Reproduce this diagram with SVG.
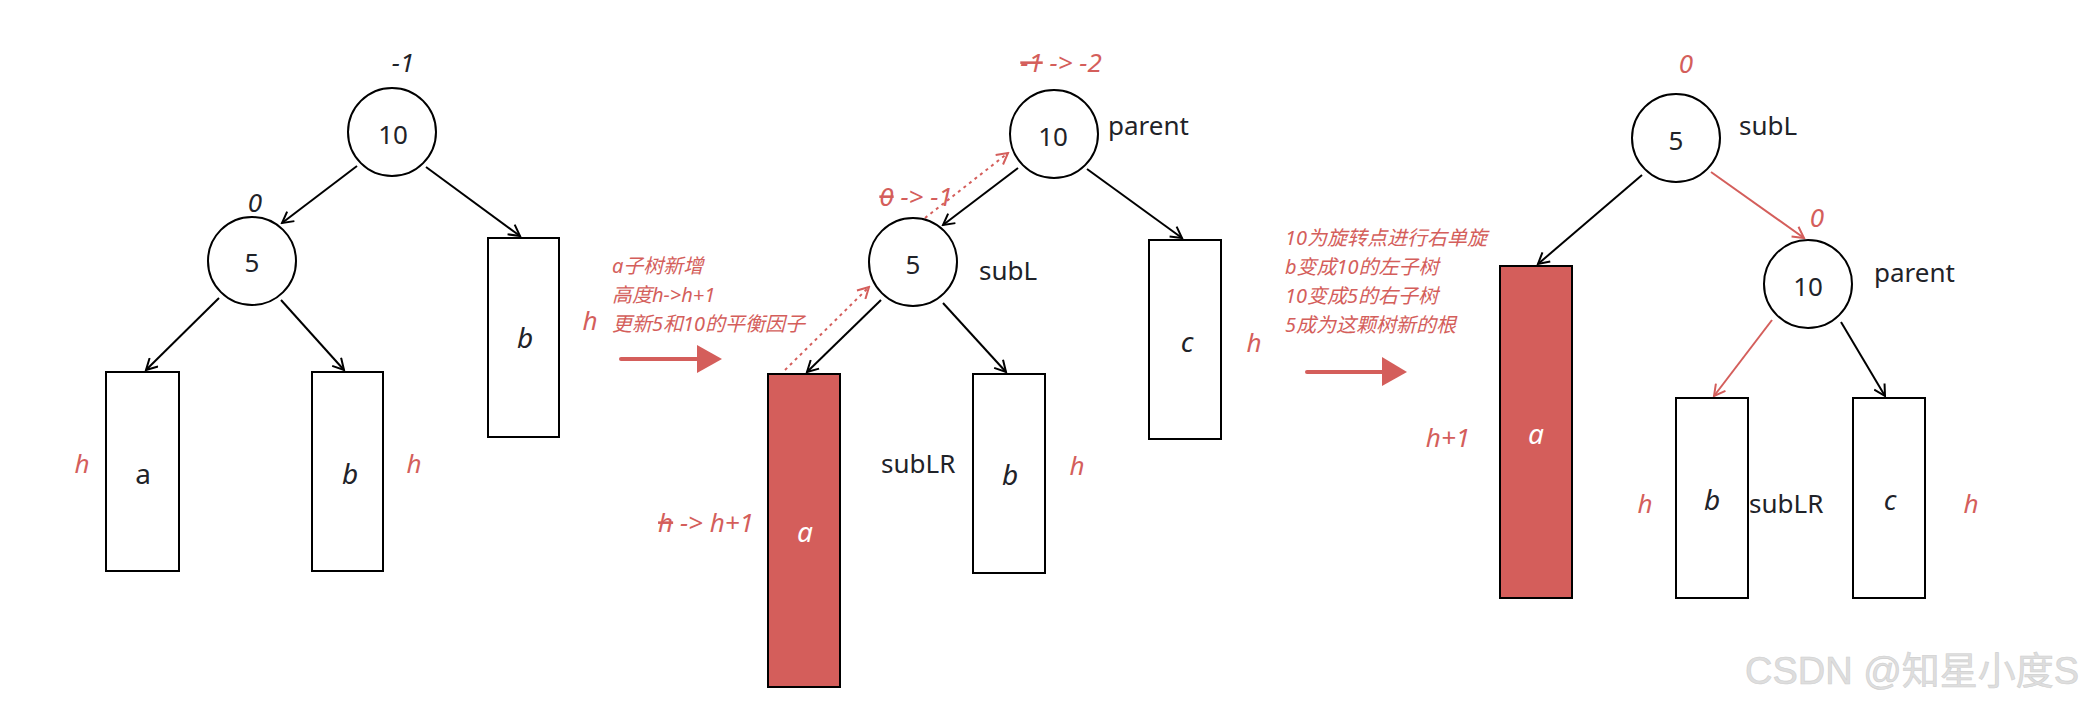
<svg xmlns="http://www.w3.org/2000/svg" width="2084" height="707" viewBox="0 0 2084 707">
<style>
text{font-family:"Noto Sans","Noto Sans CJK SC",sans-serif;}
.node{fill:#fff;stroke:#000;stroke-width:2;}
.box{fill:#fff;stroke:#000;stroke-width:2;}
.rbox{fill:#d45e5b;stroke:#000;stroke-width:2;}
.lbl{font-size:26px;fill:#1f2329;}
.num{font-size:26px;fill:#1f2329;text-anchor:middle;}
.it{font-style:italic;}
.sub{font-size:28px;fill:#1f2329;text-anchor:middle;}
.red{fill:#d45e5b;}
.h{font-size:26px;font-style:italic;fill:#d45e5b;text-anchor:middle;}
.note{font-size:20px;font-style:italic;fill:#d45e5b;}
.e{stroke:#000;stroke-width:2;fill:none;marker-end:url(#ab);}
.er{stroke:#d45e5b;stroke-width:2;fill:none;marker-end:url(#ar);}
.ed{stroke:#d45e5b;stroke-width:2;fill:none;stroke-dasharray:3 4;marker-end:url(#ar);}
.big{stroke:#d45e5b;stroke-width:4;stroke-linecap:round;fill:none;}
</style>
<defs>
<marker id="ab" viewBox="0 0 14 14" refX="12" refY="7" markerWidth="14" markerHeight="14" markerUnits="userSpaceOnUse" orient="auto">
<path d="M1,1 L12,7 L1,13" fill="none" stroke="#000" stroke-width="2"/>
</marker>
<marker id="ar" viewBox="0 0 14 14" refX="12" refY="7" markerWidth="14" markerHeight="14" markerUnits="userSpaceOnUse" orient="auto">
<path d="M1,1 L12,7 L1,13" fill="none" stroke="#d45e5b" stroke-width="2"/>
</marker>
</defs>
<rect width="2084" height="707" fill="#fff"/>

<g id="connectors">
<line class="e" x1="357" y1="166" x2="282" y2="223"/>
<line class="e" x1="426" y1="167" x2="520" y2="236"/>
<line class="e" x1="219" y1="298" x2="146" y2="370"/>
<line class="e" x1="281" y1="300" x2="344" y2="370"/>
<line class="e" x1="1018" y1="168" x2="943" y2="225"/>
<line class="e" x1="1087" y1="169" x2="1182" y2="238"/>
<line class="e" x1="881" y1="300" x2="807" y2="372"/>
<line class="e" x1="943" y1="303" x2="1006" y2="372"/>
<line class="ed" x1="785" y1="370" x2="869" y2="287"/>
<line class="ed" x1="925" y1="218" x2="1008" y2="153"/>
<line class="e" x1="1642" y1="175" x2="1538" y2="264"/>
<line class="er" x1="1711" y1="172" x2="1804" y2="238"/>
<line class="er" x1="1772" y1="320" x2="1714" y2="396"/>
<line class="e" x1="1841" y1="322" x2="1885" y2="396"/>
<line class="big" x1="621" y1="359" x2="698" y2="359"/>
<polygon points="697,345 722,359 697,373" fill="#d45e5b"/>
<line class="big" x1="1307" y1="372" x2="1383" y2="372"/>
<polygon points="1382,357 1407,372 1382,386" fill="#d45e5b"/>
</g>

<g id="t1-n10"><circle class="node" cx="392" cy="132" r="44"/><text class="num" x="393" y="144">10</text></g>
<g id="t1-bf10"><text class="num it" x="403" y="72">-1</text></g>
<g id="t1-n5"><circle class="node" cx="252" cy="261" r="44"/><text class="num" x="252" y="272">5</text></g>
<g id="t1-bf5"><text class="num it" x="255" y="212">0</text></g>
<g id="t1-a"><rect class="box" x="106" y="372" width="73" height="199"/><text class="sub" x="143" y="484">a</text></g>
<g id="t1-b"><rect class="box" x="312" y="372" width="71" height="199"/><text class="sub it" x="350" y="484">b</text></g>
<g id="t1-b2"><rect class="box" x="488" y="238" width="71" height="199"/><text class="sub it" x="525" y="348">b</text></g>
<text class="h" x="82" y="473">h</text>
<text class="h" x="414" y="473">h</text>
<text class="h" x="590" y="330">h</text>

<g id="note1">
<text class="note" x="612" y="273">a子树新增</text>
<text class="note" x="612" y="302">高度h-&gt;h+1</text>
<text class="note" x="612" y="331">更新5和10的平衡因子</text>
</g>

<g id="t2-n10"><circle class="node" cx="1054" cy="134" r="44"/><text class="num" x="1053" y="146">10</text></g>
<text class="lbl" x="1108" y="135">parent</text>
<text class="h" x="1061" y="72"><tspan text-decoration="line-through">-1</tspan> -&gt; -2</text>
<g id="t2-n5"><circle class="node" cx="913" cy="262" r="44"/><text class="num" x="913" y="274">5</text></g>
<text class="lbl" x="979" y="280">subL</text>
<text class="h" x="916" y="206"><tspan text-decoration="line-through">0</tspan> -&gt; -1</text>
<g id="t2-a"><rect class="rbox" x="768" y="374" width="72" height="313"/><text class="sub it" x="805" y="542" fill="#fff" style="fill:#fff">a</text></g>
<text class="h" x="706" y="532"><tspan text-decoration="line-through">h</tspan> -&gt; h+1</text>
<g id="t2-b"><rect class="box" x="973" y="374" width="72" height="199"/><text class="sub it" x="1010" y="485">b</text></g>
<text class="lbl" x="881" y="473">subLR</text>
<text class="h" x="1077" y="475">h</text>
<g id="t2-c"><rect class="box" x="1149" y="240" width="72" height="199"/><text class="sub it" x="1187" y="352">c</text></g>
<text class="h" x="1254" y="352">h</text>

<g id="note2">
<text class="note" x="1285" y="245">10为旋转点进行右单旋</text>
<text class="note" x="1285" y="274">b变成10的左子树</text>
<text class="note" x="1285" y="303">10变成5的右子树</text>
<text class="note" x="1285" y="332">5成为这颗树新的根</text>
</g>

<g id="t3-n5"><circle class="node" cx="1676" cy="138" r="44"/><text class="num" x="1676" y="150">5</text></g>
<text class="h" x="1686" y="73">0</text>
<text class="lbl" x="1739" y="135">subL</text>
<g id="t3-n10"><circle class="node" cx="1808" cy="284" r="44"/><text class="num" x="1808" y="296">10</text></g>
<text class="h" x="1817" y="227">0</text>
<text class="lbl" x="1874" y="282">parent</text>
<g id="t3-a"><rect class="rbox" x="1500" y="266" width="72" height="332"/><text class="sub it" x="1536" y="444" style="fill:#fff">a</text></g>
<text class="h" x="1448" y="447">h+1</text>
<g id="t3-b"><rect class="box" x="1676" y="398" width="72" height="200"/><text class="sub it" x="1712" y="510">b</text></g>
<text class="lbl" x="1749" y="513">subLR</text>
<text class="h" x="1645" y="513">h</text>
<g id="t3-c"><rect class="box" x="1853" y="398" width="72" height="200"/><text class="sub it" x="1890" y="510">c</text></g>
<text class="h" x="1971" y="513">h</text>

<text x="1745" y="684" style="font-family:'Liberation Sans','Noto Sans CJK SC',sans-serif;font-size:38px;fill:#dedede;stroke:#cfcfcf;stroke-width:0.6">CSDN @知星小度S</text>
</svg>
